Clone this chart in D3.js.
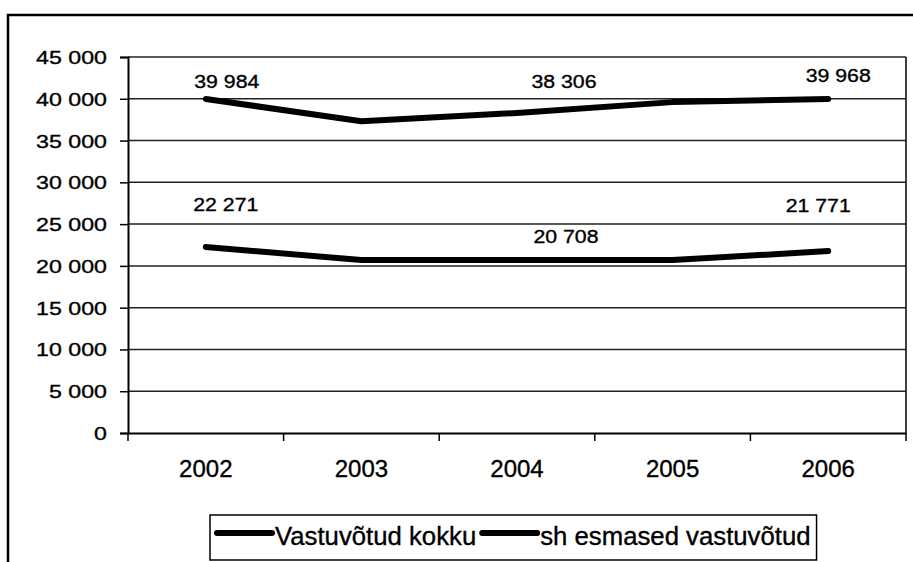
<!DOCTYPE html>
<html>
<head>
<meta charset="utf-8">
<script src="https://cdn.jsdelivr.net/npm/d3@7"></script>
<style>
  body { margin: 0; background: #fff; }
  text { font-family: "Liberation Sans", Arial, sans-serif; fill: #000; stroke: #000; stroke-width: 0.35px; }
</style>
</head>
<body>
<div id="chart"></div>
<script>
var width = 913,
    height = 562;

// data
var years = ["2002", "2003", "2004", "2005", "2006"];
var seriesNames = ["Vastuvõtud kokku", "sh esmased vastuvõtud"];
var totalAdmissions = [39984, 37300, 38306, 39600, 39968];
var firstAdmissions = [22271, 20700, 20708, 20700, 21771];
var labelledYears = ["2002", "2004", "2006"];
var yTicks = [0, 5000, 10000, 15000, 20000, 25000, 30000, 35000, 40000, 45000];

// hand placed label offsets (dx, dy from the point), like in the original
var labelOffsets = [
    [[21, -11], [47, -25], [10, -17]],
    [[20, -36], [49, -17], [-10, -39]]
];

var plot = { left: 128, top: 57, right: 906, bottom: 433 };

var locale = d3.formatLocale({ decimal: ",", thousands: "\u00a0", grouping: [3], currency: ["", ""] });
var fmt = locale.format(",d");

var svg = d3.select("#chart").append("svg")
    .attr("width", width)
    .attr("height", height);

// outer frame (only left and top visible)
svg.append("path")
    .attr("d", "M8," + height + "V15H" + width)
    .attr("fill", "none")
    .attr("stroke", "#000")
    .attr("stroke-width", 2.5);

var x = d3.scaleBand()
    .domain(years)
    .range([plot.left, plot.right]);

var y = d3.scaleLinear()
    .domain([0, 45000])
    .range([plot.bottom, plot.top]);

// stretched text helper (the scan is wider than tall)
function stretchedText(g, tx, ty, str, size, sx, anchor) {
    return g.append("text")
        .attr("transform", "translate(" + tx + "," + ty + ") scale(" + sx + ",1)")
        .attr("text-anchor", anchor)
        .style("font-size", size + "px")
        .text(str);
}

// gridlines
svg.append("g").selectAll("line")
    .data(yTicks.filter(function(d) { return d > 0; }))
    .enter()
    .append("line")
    .attr("x1", plot.left)
    .attr("x2", plot.right)
    .attr("y1", function(d) { return y(d); })
    .attr("y2", function(d) { return y(d); })
    .attr("stroke", "#222")
    .attr("stroke-width", 1.5);

// right border of plot area
svg.append("line")
    .attr("x1", plot.right).attr("x2", plot.right)
    .attr("y1", plot.top).attr("y2", plot.bottom)
    .attr("stroke", "#000")
    .attr("stroke-width", 1.5);

// y axis
var yAxis = d3.axisLeft(y)
    .tickValues(yTicks)
    .tickSize(8)
    .tickFormat(function() { return ""; });

var gY = svg.append("g")
    .attr("transform", "translate(" + plot.left + ",0)")
    .call(yAxis);
gY.select(".domain").attr("stroke-width", 2);
gY.selectAll(".tick line").attr("stroke-width", 1.5);

yTicks.forEach(function(d) {
    stretchedText(svg, 107, y(d) + 7, fmt(d), 19, 1.22, "end");
});

// x axis, ticks on category boundaries
var xAxis = d3.axisBottom(x)
    .tickSize(0)
    .tickFormat(function() { return ""; });

var gX = svg.append("g")
    .attr("transform", "translate(0," + plot.bottom + ")")
    .call(xAxis);
gX.select(".domain").attr("stroke-width", 2);

svg.append("g").selectAll("line")
    .data(years.concat(["end"]))
    .enter()
    .append("line")
    .attr("x1", function(d, i) { return plot.left + i * x.step(); })
    .attr("x2", function(d, i) { return plot.left + i * x.step(); })
    .attr("y1", plot.bottom)
    .attr("y2", plot.bottom + 8)
    .attr("stroke", "#000")
    .attr("stroke-width", 1.5);

years.forEach(function(d) {
    stretchedText(svg, x(d) + x.bandwidth() / 2, 477, d, 24, 1.0, "middle");
});

// lines
var line = d3.line()
    .x(function(d, i) { return x(years[i]) + x.bandwidth() / 2; })
    .y(function(d) { return y(d); });

var allSeries = [totalAdmissions, firstAdmissions];

svg.append("g").selectAll("path")
    .data(allSeries)
    .enter()
    .append("path")
    .attr("d", line)
    .attr("fill", "none")
    .attr("stroke", "#000")
    .attr("stroke-width", 6)
    .attr("stroke-linecap", "round")
    .attr("stroke-linejoin", "round");

// data labels
allSeries.forEach(function(values, s) {
    labelledYears.forEach(function(yr, k) {
        var i = years.indexOf(yr);
        var px = x(yr) + x.bandwidth() / 2,
            py = y(values[i]);
        var off = labelOffsets[s][k];
        stretchedText(svg, px + off[0], py + off[1], fmt(values[i]), 19, 1.12, "middle");
    });
});

// legend
var legend = svg.append("g");
var legendBox = legend.append("rect")
    .attr("x", 210)
    .attr("y", 515)
    .attr("width", 617)
    .attr("height", 45)
    .attr("fill", "#fff")
    .attr("stroke", "#000")
    .attr("stroke-width", 1.5);

var lx = 217;
seriesNames.forEach(function(name) {
    legend.append("line")
        .attr("x1", lx).attr("x2", lx + 55)
        .attr("y1", 533).attr("y2", 533)
        .attr("stroke", "#000")
        .attr("stroke-width", 6)
        .attr("stroke-linecap", "round");
    var t = stretchedText(legend, lx + 58, 545, name, 25, 1.03, "start");
    lx += 58 + t.node().getComputedTextLength() * 1.03 + 6;
});
legendBox.attr("width", lx - 210);
</script>
</body>
</html>
